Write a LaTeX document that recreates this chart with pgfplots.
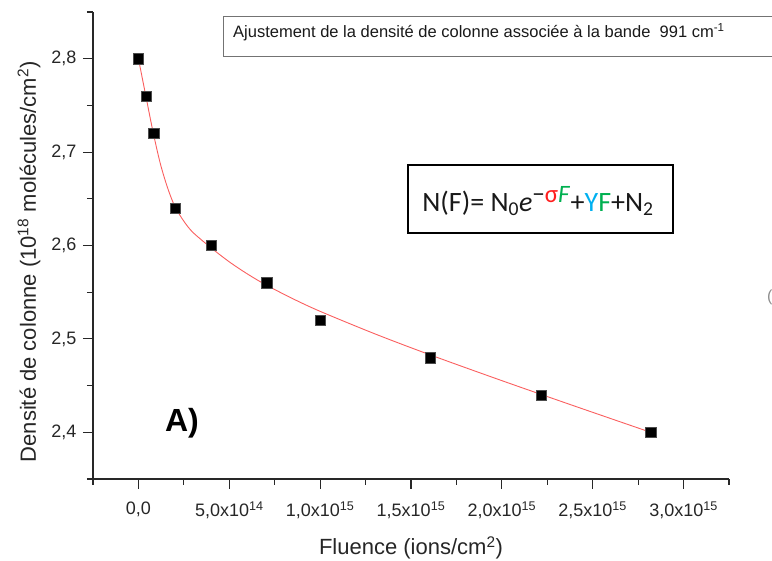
\documentclass[border=0pt]{standalone}
\usepackage{fontspec}
\setmainfont{Liberation Sans}
\newfontfamily\carlito{Carlito}
\usepackage{pgfplots}
\pgfplotsset{compat=1.18}
\definecolor{fitred}{RGB}{250,95,95}
\definecolor{eqred}{RGB}{255,30,30}
\definecolor{eqgreen}{RGB}{0,176,80}
\definecolor{eqblue}{RGB}{0,176,240}
\definecolor{axgray}{RGB}{40,40,40}
\begin{document}
\begin{tikzpicture}
\useasboundingbox (-93pt,-82pt) rectangle (679pt,479pt);
\clip (-93pt,-82pt) rectangle (679pt,479pt);
\begin{axis}[
  scale only axis, width=636pt, height=467pt,
  xmin=-2.5e14, xmax=3.25e15, ymin=2.35, ymax=2.85,
  scaled x ticks=false, scaled y ticks=false,
  axis x line*=bottom, axis y line*=left,
  axis line style={-, line width=1.3pt, color=axgray},
  tick align=outside,
  major tick length=10pt, minor tick length=6pt,
  every tick/.style={line width=1.1pt, color=axgray},
  xtick={0,5e14,1e15,1.5e15,2e15,2.5e15,3e15},
  xticklabels={{0,0},{5,0x10\textsuperscript{14}},{1,0x10\textsuperscript{15}},{1,5x10\textsuperscript{15}},{2,0x10\textsuperscript{15}},{2,5x10\textsuperscript{15}},{3,0x10\textsuperscript{15}}},
  minor xtick={-2.5e14,2.5e14,7.5e14,1.25e15,1.75e15,2.25e15,2.75e15,3.25e15},
  ytick={2.4,2.5,2.6,2.7,2.8},
  yticklabels={{2,4},{2,5},{2,6},{2,7},{2,8}},
  minor ytick={2.35,2.45,2.55,2.65,2.75,2.85},
  ticklabel style={font=\fontsize{18}{20}\selectfont, color=black!85},
  xticklabel style={yshift=-9pt},
  yticklabel style={xshift=-3pt},
  xlabel={Fluence (ions/cm\textsuperscript{2})},
  ylabel={Densité de colonne (10\textsuperscript{18} molécules/cm\textsuperscript{2})},
  label style={font=\fontsize{22}{24}\selectfont, color=black!85},
  xlabel style={at={(axis description cs:0.5,-0.148)}, anchor=center},
  ylabel style={at={(axis description cs:-0.1006,0.465)}, anchor=center},
  clip=false,
]
\addplot[fitred, line width=0.9pt, smooth] coordinates {
(0,2.800) (4e13,2.7608) (8e13,2.7220) (1.2e14,2.6880) (1.6e14,2.6620)
(2e14,2.6420) (2.5e14,2.6260) (3e14,2.6140) (4e14,2.5975) (5e14,2.5825)
(6e14,2.5695) (7e14,2.5580) (8.5e14,2.5430) (1e15,2.5295) (1.3e15,2.5055)
(1.6e15,2.4833) (2e15,2.4553) (2.4e15,2.4281) (2.82e15,2.3999)
};
\addplot[only marks, mark=square*, mark size=5.2pt, mark options={fill=black, draw=black!70, line width=0.4pt}] coordinates {
(0,2.80) (4.25e13,2.76) (8.3e13,2.72) (2.02e14,2.64) (4.0e14,2.60)
(7.05e14,2.56) (1.0e15,2.52) (1.605e15,2.48) (2.215e15,2.44) (2.82e15,2.40)
};
\end{axis}
\draw[black!55, line width=0.9pt] (130pt,423pt) rectangle (720pt,463pt);
\node[anchor=west, inner sep=0pt, font=\fontsize{16.5}{18}\selectfont, color=black!90] at (140pt,447pt)
  {Ajustement de la densité de colonne associée à la bande\ \ 991 cm\textsuperscript{-1}};
\draw[black, line width=1.2pt] (315pt,246pt) rectangle (580pt,314pt);
\node[inner sep=0pt, font=\carlito\fontsize{28}{30}\selectfont, color=black!90] at (445pt,278pt)
  {N(F)= N\textsubscript{0}\textit{e}\textsuperscript{\fontsize{25}{25}\selectfont −\textcolor{eqred}{σ}\textcolor{eqgreen}{\textit{F}}}+\textcolor{eqblue}{Y}\textcolor{eqgreen}{F}+N\textsubscript{2}};
\node[font=\bfseries\fontsize{32}{34}\selectfont, inner sep=0pt] at (89pt,56pt) {A)};
\node[font=\fontsize{16}{16}\selectfont, color=black!45, anchor=west, inner sep=0pt] at (674pt,182pt) {(};
\end{tikzpicture}
\end{document}
